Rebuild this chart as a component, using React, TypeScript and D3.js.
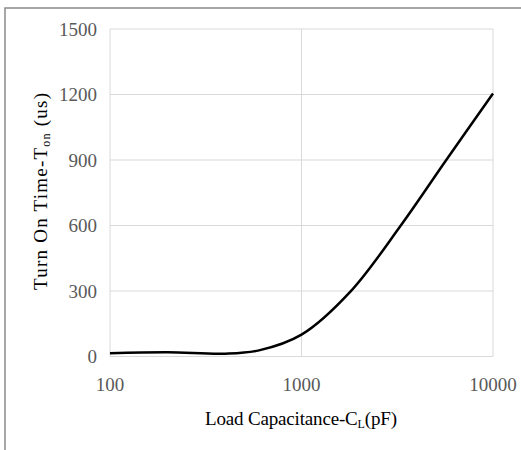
import React from "react";
import * as d3 from "d3";

const capacitance = [100, 200, 400, 600, 1000, 1800, 3300, 5700, 10000];
const turnOnTime = [15, 19, 13, 28, 100, 297, 600, 900, 1205];
const yTicks = [0, 300, 600, 900, 1200, 1500];
const xTicks = [100, 1000, 10000];

const W = 521;
const H = 450;
const M = { left: 110, top: 29, right: 493, bottom: 356.5 };
const FONT = "'Liberation Serif', 'DejaVu Serif', serif";

export default function App() {
  const x = d3.scaleLog().domain([100, 10000]).range([M.left, M.right]);
  const y = d3.scaleLinear().domain([0, 1500]).range([M.bottom, M.top]);
  const data = capacitance.map((c, i) => [c, turnOnTime[i]] as [number, number]);
  const line = d3
    .line<[number, number]>()
    .x((d) => x(d[0]))
    .y((d) => y(d[1]))
    .curve(d3.curveCatmullRom.alpha(0.5));

  return (
    <svg width={W} height={H} style={{ position: "absolute", left: 0, top: 0, display: "block" }}>
      <rect x={0} y={0} width={W} height={H} fill="#fff" />
      <rect x={5} y={8} width={700} height={700} fill="#fff" stroke="#8a8a8a" strokeWidth={1.5} />
      {yTicks.map((t) => (
        <line key={"gy" + t} x1={M.left} x2={M.right} y1={y(t)} y2={y(t)} stroke="#d9d9d9" strokeWidth={1} />
      ))}
      {xTicks.map((t) => (
        <line key={"gx" + t} x1={x(t)} x2={x(t)} y1={M.top} y2={M.bottom} stroke="#d9d9d9" strokeWidth={1} />
      ))}
      {yTicks.map((t) => (
        <text key={"ty" + t} x={97} y={y(t)} dy="0.35em" textAnchor="end" fontFamily={FONT} fontSize={19} fill="#595959">
          {t}
        </text>
      ))}
      {xTicks.map((t) => (
        <text key={"tx" + t} x={x(t)} y={391} textAnchor="middle" fontFamily={FONT} fontSize={19} fill="#595959">
          {t}
        </text>
      ))}
      <path d={line(data) || ""} fill="none" stroke="#000" strokeWidth={2.5} />
      <text x={301} y={425} textAnchor="middle" fontFamily={FONT} fontSize={19} fill="#000" textLength={192} lengthAdjust="spacing">
        Load Capacitance-C<tspan fontSize={12} dy={3}>L</tspan>
        <tspan dy={-3}>(pF)</tspan>
      </text>
      <text
        transform={`translate(46.5,191.5) rotate(-90)`}
        textAnchor="middle"
        fontFamily={FONT}
        fontSize={19}
        fill="#000"
        textLength={197}
        lengthAdjust="spacing"
      >
        Turn On Time-T<tspan fontSize={12} dy={3}>on</tspan>
        <tspan dy={-3}> (us)</tspan>
      </text>
    </svg>
  );
}
